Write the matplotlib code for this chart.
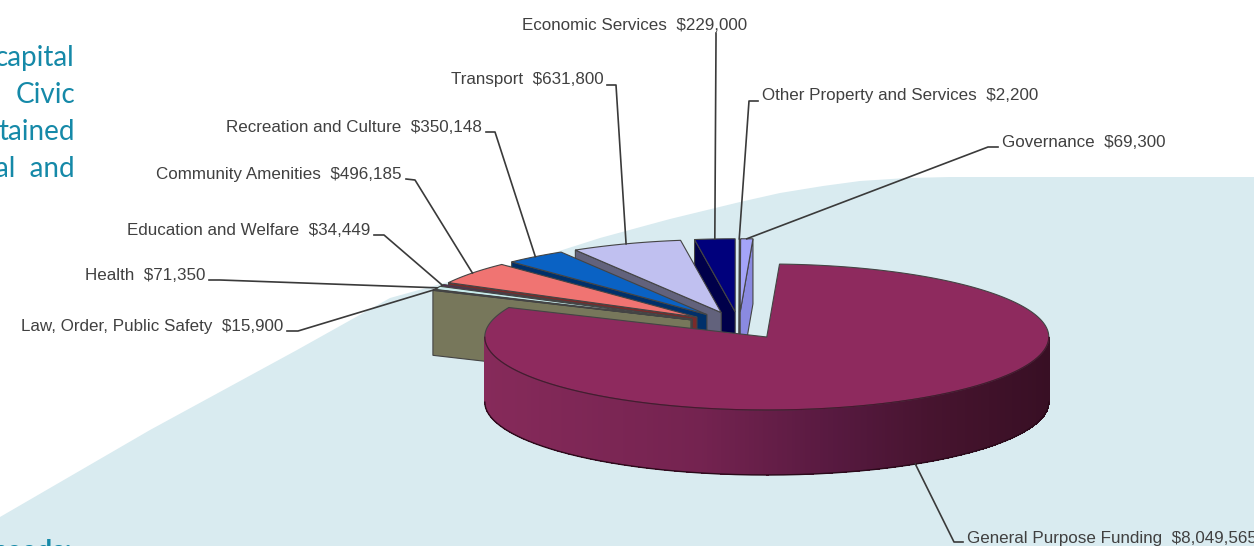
import numpy as np
import matplotlib
matplotlib.use("Agg")
import matplotlib.pyplot as plt
from matplotlib.colors import to_rgb

#slices in clockwise order starting from 12 o'clock
names=["Other Property and Services","Governance","General Purpose Funding","Law, Order, Public Safety","Health","Education and Welfare","Community Amenities","Recreation and Culture","Transport","Economic Services"]
values=[2200,69300,8049565,15900,71350,34449,496185,350148,631800,229000]

#colors of the slice tops and of their shaded walls
top_colors=["#d040d0","#a4a4f8","#8e2a5e","#2a2a20","#c8ecec","#5c1a5c","#f07472","#0a62c4","#c0c0f0","#00007c"]
wall_colors=["#702070","#8a8ae0","#7a2452","#77775b","#6a8080","#300830","#7a2a2a","#00306a","#62627c","#00004a"]

#label layout: text anchor, leader elbow and leader start
label_x=[762,1002,967,283,205,370,402,482,604,747]
label_y=[95.5,142.5,538.5,326.5,275.5,230.5,174.5,127.5,79.5,25.5]
label_ha=["left","left","left","right","right","right","right","right","right","right"]
leader_start=[(758,101),(998,147),(963,542),(287,331),(209,280),(374,235),(406,179),(486,132),(607,85),(716,33)]
leader_elbow=[(749,101),(988,147),(954,542),(298,331),(220,280),(384,235),(415,180),(495,132),(616,85),(716,40)]

#background swoosh behind the chart
swoosh_x=[0,150,297,390,437,553,600,670,740,780,823,860,907,950,1254,1254,0]
swoosh_y=[517,430,350,298,285,253,238,219,202,193,186,181,178,177,177,546,546]

#teal body text cut by the left edge
side_text=["capital","Civic","tained","al  and"]
side_y=[58,95,132,169]

#pie geometry in pixels
center_x=739
center_y=325.4
radius_x=282
radius_y=73
depth=65
explode=0.187
teal="#1589a8"
line_color="#3a3a3a"

def project(angle,r,apex):
	a=np.radians(angle)
	return apex[0]+r*radius_x*np.cos(a),apex[1]-r*radius_y*np.sin(a)

def shade(x):
	#wall of the big slice gets darker to the right
	stops=[485,700,840,930,1048]
	cols=np.array([to_rgb(c) for c in ["#862a5a","#742350","#56193f","#47142f","#380f24"]])
	return tuple(np.interp(x,stops,cols[:,i]) for i in range(3))

def drawSlice(ax,a1,a2,top,wall):
	mid=(a1+a2)/2
	apex=project(mid,explode,(center_x,center_y))
	angles=np.arange(a1,a2,0.25)
	angles=np.append(angles,a2)
	rim_x,rim_y=project(angles,1,apex)
	#flat walls along the two cuts, only if they face the viewer
	for edge,normal in ((a1,a1-90),(a2,a2+90)):
		if np.sin(np.radians(normal))<-1e-6:
			ex,ey=project(edge,1,apex)
			ax.fill([ex,apex[0],apex[0],ex],[ey,apex[1],apex[1]+depth,ey+depth],facecolor=wall,edgecolor="#444444",linewidth=0.8)
	#curved outer wall, drawn in strips
	front=np.sin(np.radians(angles))<0
	if front.any():
		xs=rim_x[front]
		ys=rim_y[front]
		for i in range(len(xs)-1):
			ax.fill([xs[i],xs[i+1]+0.5,xs[i+1]+0.5,xs[i]],[ys[i],ys[i+1],ys[i+1]+depth,ys[i]+depth],facecolor=shade(xs[i]),edgecolor="none",antialiased=False)
		ax.plot(xs,ys+depth,color="#2a0a1a",linewidth=1.0)
		ax.plot(xs,ys,color="#4a1630",linewidth=0.8)
	#top face
	ax.fill(np.append(rim_x,apex[0]),np.append(rim_y,apex[1]),facecolor=top,edgecolor="#444444",linewidth=0.8)
	return apex

def main():
	fig=plt.figure(figsize=(12.54,5.46),dpi=100)
	ax=fig.add_axes([0,0,1,1])
	ax.set_xlim(0,1254)
	ax.set_ylim(546,0)
	ax.axis("off")
	ax.fill(swoosh_x,swoosh_y,color="#d9ebf0",linewidth=0)
	for t,y in zip(side_text,side_y):
		ax.text(75,y,t,ha="right",va="center",fontsize=20,color=teal,family="Lato")
	ax.text(72,552,"needs:",ha="right",va="center",fontsize=20,color=teal,family="Lato",fontweight="bold")
	#slice angles come from the values, clockwise from the top
	sweep=np.array(values)/np.sum(values)*360
	ends=90-np.cumsum(sweep)
	starts=ends+sweep
	mids=(starts+ends)/2
	#paint from the back of the pie to the front
	order=np.argsort(np.abs(((mids-90+180)%360)-180))
	apexes={}
	for i in order:
		apexes[i]=drawSlice(ax,ends[i],starts[i],top_colors[i],wall_colors[i])
	#labels and leader lines
	for i in range(len(names)):
		tx,ty=project(mids[i],1,apexes[i])
		if np.sin(np.radians(mids[i]))<0:
			ty=ty+depth
		ax.plot([leader_start[i][0],leader_elbow[i][0],tx],[leader_start[i][1],leader_elbow[i][1],ty],color=line_color,linewidth=1.2)
		ax.text(label_x[i],label_y[i],f"{names[i]}  ${values[i]:,}",ha=label_ha[i],va="center",fontsize=12.25,color="#404040",family="Liberation Sans")
	fig.savefig("out.png",dpi=100)

if __name__ == "__main__":
	main()
